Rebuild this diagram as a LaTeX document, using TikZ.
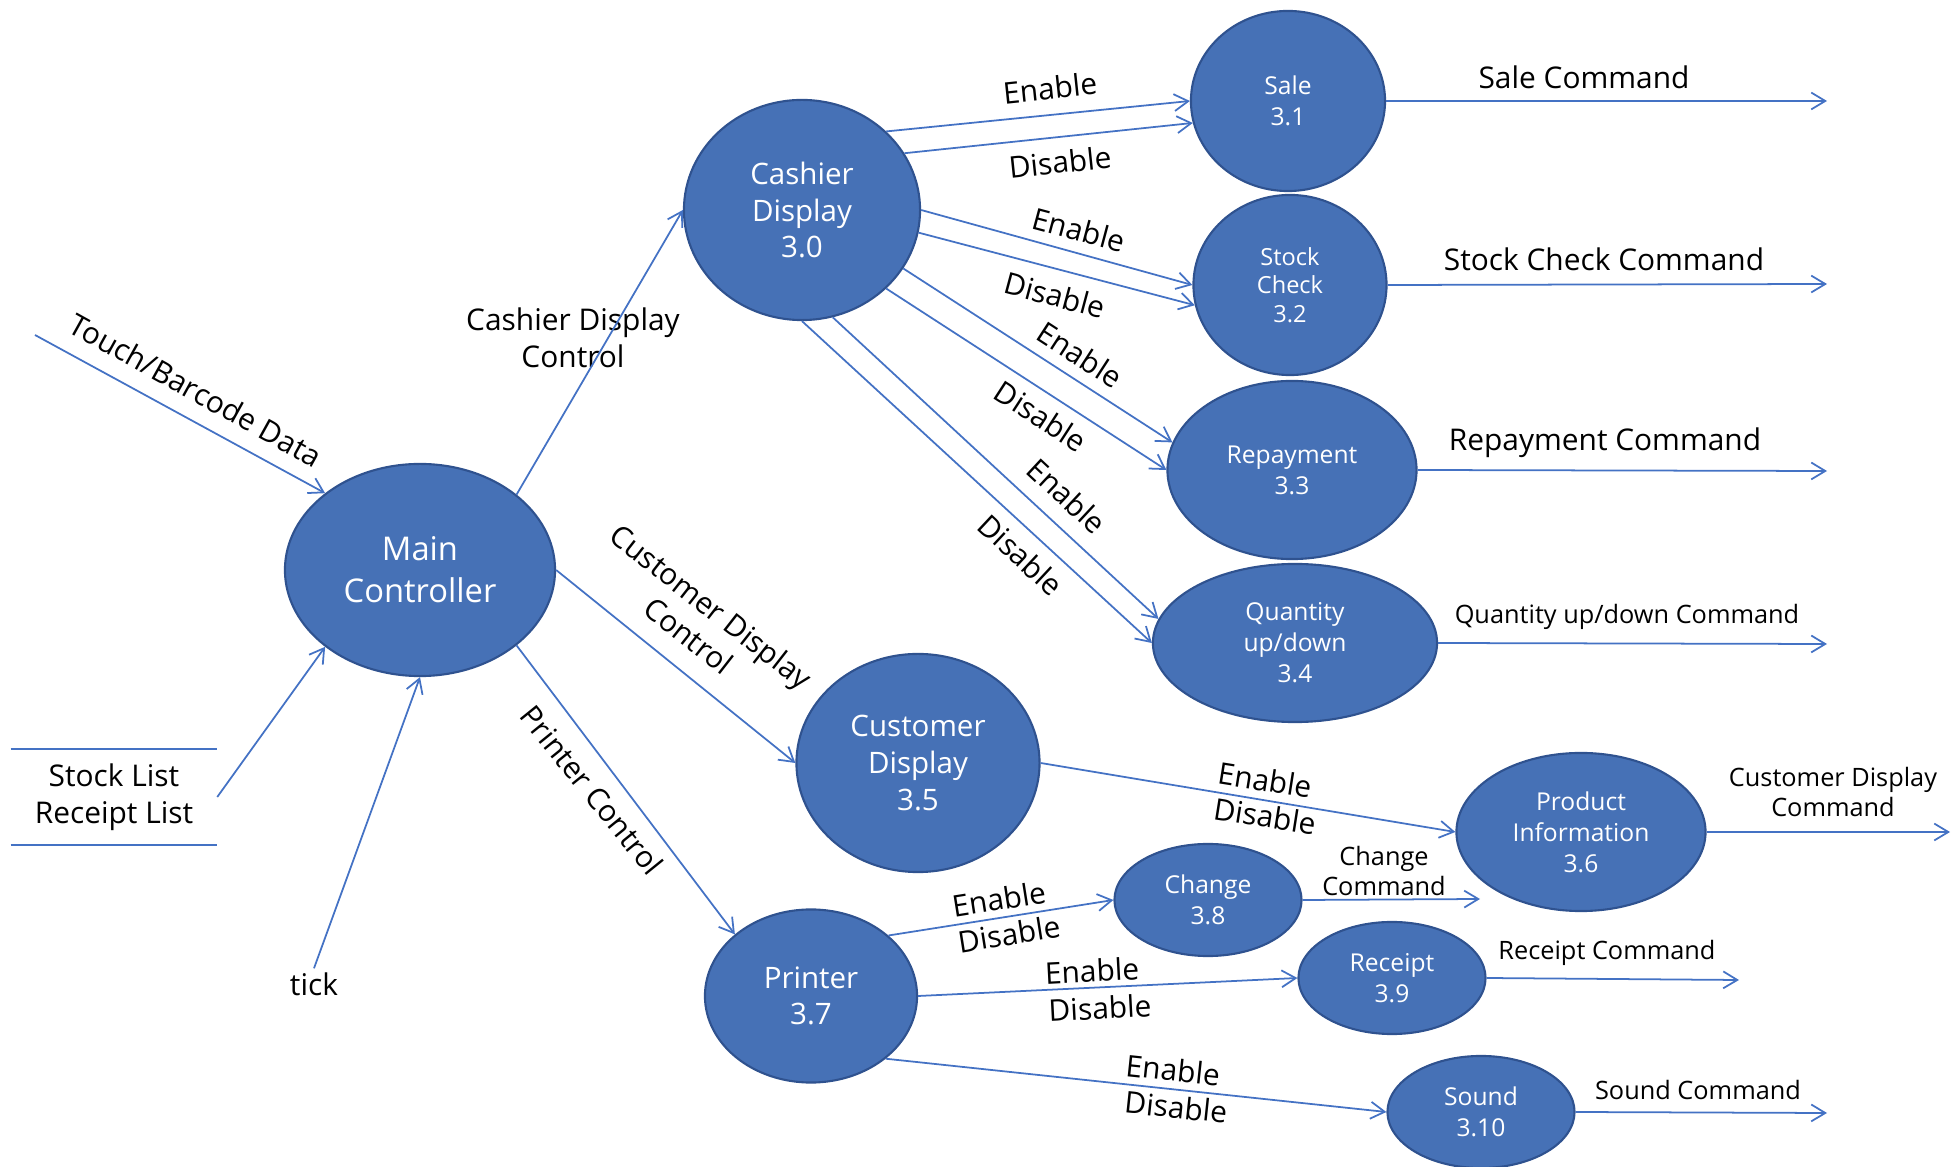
\documentclass[tikz,border=0pt]{standalone}
\usepackage{fontspec}
\setmainfont{Open Sans}
\usepackage{tikz}
\usetikzlibrary{arrows,arrows.meta,positioning,shapes.geometric}
\definecolor{procfill}{RGB}{70,113,182}
\definecolor{procline}{RGB}{47,82,143}
\definecolor{flowblue}{RGB}{68,114,196}

\begin{document}
\begin{tikzpicture}[
x=0.01cm, y=-0.01cm,
>={Straight Barb[length=4pt,width=4.8pt]},
proc/.style={ellipse, draw=procline, fill=procfill, line width=0.6pt, text=white, inner sep=0pt, align=center},
bigtext/.style={font=\fontsize{8.4}{10.4}\selectfont},
smalltext/.style={font=\fontsize{7}{8.8}\selectfont},
lbl/.style={font=\fontsize{8.5}{10.4}\selectfont, inner sep=1pt, align=center},
lblsmall/.style={font=\fontsize{7.2}{8.8}\selectfont, inner sep=1pt, align=center},
flowline/.style={->, draw=flowblue, line width=0.5pt},
]
\useasboundingbox (0,0) rectangle (1953,1167);
%Nodes
\node[proc, font=\fontsize{9.3}{12}\selectfont, minimum width=2.70cm, minimum height=2.12cm] (main) at (420,570) {Main\\Controller};
\node[proc, bigtext, minimum width=2.36cm, minimum height=2.20cm] (cashier) at (802,210) {Cashier\\Display\\3.0};
\node[proc, smalltext, minimum width=1.94cm, minimum height=1.80cm] (sale) at (1288,101) {Sale\\3.1};
\node[proc, font=\fontsize{6.7}{8.1}\selectfont, minimum width=1.93cm, minimum height=1.80cm] (stock) at (1290,285) {Stock\\Check\\3.2};
\node[proc, smalltext, minimum width=2.49cm, minimum height=1.78cm] (repay) at (1292,470) {Repayment\\3.3};
\node[proc, smalltext, minimum width=2.84cm, minimum height=1.58cm] (qty) at (1295,643) {Quantity\\up/down\\3.4};
\node[proc, bigtext, minimum width=2.43cm, minimum height=2.18cm] (customer) at (918,763) {Customer\\Display\\3.5};
\node[proc, smalltext, minimum width=2.49cm, minimum height=1.58cm] (product) at (1581,832) {Product\\Information\\3.6};
\node[proc, bigtext, minimum width=2.12cm, minimum height=1.73cm] (printer) at (811,996) {Printer\\3.7};
\node[proc, smalltext, minimum width=1.87cm, minimum height=1.12cm] (change) at (1208,900) {Change\\3.8};
\node[proc, smalltext, minimum width=1.87cm, minimum height=1.12cm] (receipt) at (1392,978) {Receipt\\3.9};
\node[proc, smalltext, minimum width=1.87cm, minimum height=1.12cm] (sound) at (1481,1112) {Sound\\3.10};
\node[lbl, minimum width=2.05cm, minimum height=0.94cm] (store) at (114,797) {Stock List\\Receipt List};
\node[lbl] (tick) at (314,984) {tick};

%Free ends
\coordinate (touch) at (35,335);
\coordinate (saleout) at (1827,101);
\coordinate (stockout) at (1827,284);
\coordinate (repayout) at (1827,471);
\coordinate (qtyout) at (1827,644);
\coordinate (productout) at (1950,832);
\coordinate (changeout) at (1480,899);
\coordinate (receiptout) at (1739,980);
\coordinate (soundout) at (1827,1113);

%Labels
\node[lbl, rotate=-29] (touchlbl) at (196,390) {Touch/Barcode Data};
\node[lbl] (cashierlbl) at (573,338) {Cashier Display\\Control};
\node[lbl, rotate=-38] (customerlbl) at (700,621) {Customer Display\\Control};
\node[lbl, rotate=-51] (printerlbl) at (592,790) {Printer Control};
\node[lbl, rotate=6] (en1) at (1050,88) {Enable};
\node[lbl, rotate=6] (dis1) at (1060,162) {Disable};
\node[lbl, rotate=-15] (en2) at (1079,230) {Enable};
\node[lbl, rotate=-15] (dis2) at (1055,295) {Disable};
\node[lbl, rotate=-33] (en3) at (1080,355) {Enable};
\node[lbl, rotate=-33] (dis3) at (1041,416) {Disable};
\node[lbl, rotate=-43] (en4) at (1067,496) {Enable};
\node[lbl, rotate=-43] (dis4) at (1021,555) {Disable};
\node[lbl, rotate=-9] (en6) at (1265,780) {Enable};
\node[lbl, rotate=-9] (dis6) at (1265,816) {Disable};
\node[lbl, rotate=9] (en8) at (999,899) {Enable};
\node[lbl, rotate=9] (dis8) at (1009,934) {Disable};
\node[lbl, rotate=3] (en9) at (1092,971) {Enable};
\node[lbl, rotate=3] (dis9) at (1100,1008) {Disable};
\node[lbl, rotate=-6] (en10) at (1173,1070) {Enable};
\node[lbl, rotate=-6] (dis10) at (1176,1107) {Disable};
\node[lbl] (salecmd) at (1584,77) {Sale Command};
\node[lbl] (stockcmd) at (1604,259) {Stock Check Command};
\node[lbl] (repaycmd) at (1605,443) {Repayment Command};
\node[lblsmall] (qtycmd) at (1627,617) {Quantity up/down Command};
\node[lblsmall] (productcmd) at (1833,792) {Customer Display\\Command};
\node[lblsmall] (changecmd) at (1384,871) {Change\\Command};
\node[lblsmall] (receiptcmd) at (1607,953) {Receipt Command};
\node[lblsmall] (soundcmd) at (1698,1090) {Sound Command};

%Lines
\draw[flowblue, line width=0.6pt] (store.north west) -- (store.north east);
\draw[flowblue, line width=0.6pt] (store.south west) -- (store.south east);
\draw[flowline] (touch) -- (main.141);
\draw[flowline] (store.east) -- (main.219);
\draw[flowline] (tick.north) -- (main.south);
\draw[flowline] (main.38) -- (cashier.180);
\draw[flowline] (main.0) -- (customer.180);
\draw[flowline] (main.-38) -- (printer.141);
\draw[flowline] (cashier.43) -- (sale.180);
\draw[flowline] (cashier.29) -- (sale.193);
\draw[flowline] (cashier.0) -- (stock.180);
\draw[flowline] (cashier.-11) -- (stock.192);
\draw[flowline] (cashier.-30) -- (repay.167);
\draw[flowline] (cashier.-43) -- (repay.180);
\draw[flowline] (cashier.-74) -- (qty.170);
\draw[flowline] (cashier.-90) -- (qty.180);
\draw[flowline] (customer.0) -- (product.180);
\draw[flowline] (printer.38) -- (change.180);
\draw[flowline] (printer.0) -- (receipt.180);
\draw[flowline] (printer.-40) -- (sound.180);
\draw[flowline] (sale.east) -- (saleout);
\draw[flowline] (stock.east) -- (stockout);
\draw[flowline] (repay.east) -- (repayout);
\draw[flowline] (qty.east) -- (qtyout);
\draw[flowline] (product.east) -- (productout);
\draw[flowline] (change.east) -- (changeout);
\draw[flowline] (receipt.east) -- (receiptout);
\draw[flowline] (sound.east) -- (soundout);
\end{tikzpicture}
\end{document}
